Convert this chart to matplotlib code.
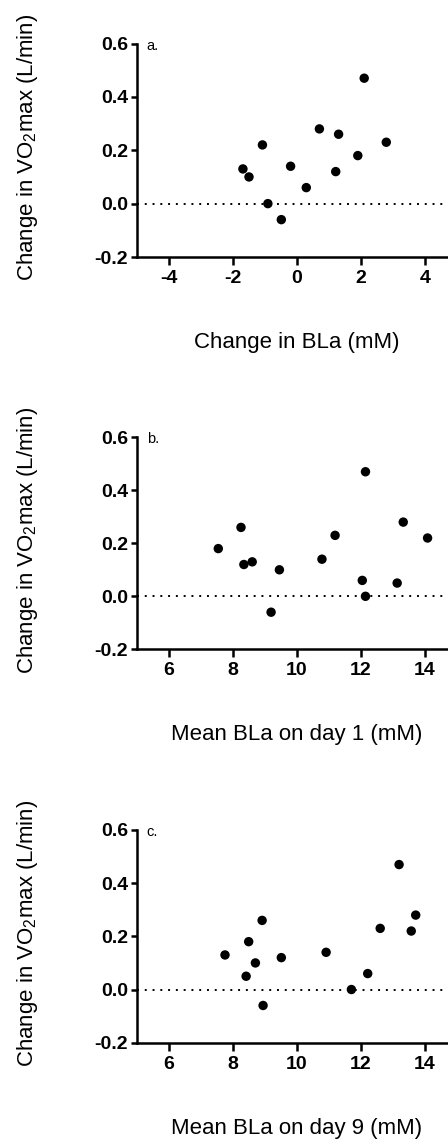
"""Change in VO2max vs blood lactate (BLa): three stacked scatter panels."""
import matplotlib
matplotlib.use("Agg")
import matplotlib.pyplot as plt

plt.rcParams["font.family"] = ["Liberation Sans", "DejaVu Sans"]
plt.rcParams["mathtext.fontset"] = "custom"
plt.rcParams["mathtext.rm"] = "Liberation Sans"
plt.rcParams["axes.unicode_minus"] = False

# ── data ──
bla_change = [-1.69, -1.50, -1.08, -0.91, -0.49, -0.20, 0.29, 0.70, 1.21, 1.30, 1.90, 2.10, 2.79]
vo2_a      = [0.13, 0.10, 0.22, 0.00, -0.06, 0.14, 0.06, 0.28, 0.12, 0.26, 0.18, 0.47, 0.23]

bla_day1 = [7.54, 8.25, 8.34, 8.60, 9.19, 9.45, 10.78, 11.19, 12.04, 12.14, 12.14, 13.13, 13.32, 14.08]
vo2_b    = [0.18, 0.26, 0.12, 0.13, -0.06, 0.10, 0.14, 0.23, 0.06, 0.47, 0.00, 0.05, 0.28, 0.22]

bla_day9 = [7.75, 8.49, 8.41, 8.70, 8.91, 8.94, 9.51, 10.91, 11.70, 12.21, 12.60, 13.19, 13.57, 13.71]
vo2_c    = [0.13, 0.18, 0.05, 0.10, 0.26, -0.06, 0.12, 0.14, 0.00, 0.06, 0.23, 0.47, 0.22, 0.28]

PANELS = [
    ("a.", bla_change, vo2_a, (-5, 5), [-4, -2, 0, 2, 4], "Change in BLa (mM)"),
    ("b.", bla_day1, vo2_b, (5, 15), [6, 8, 10, 12, 14], "Mean BLa on day 1 (mM)"),
    ("c.", bla_day9, vo2_c, (5, 15), [6, 8, 10, 12, 14], "Mean BLa on day 9 (mM)"),
]
Y_TICKS = [-0.2, 0.0, 0.2, 0.4, 0.6]
Y_LABEL = r"Change in VO$_\mathregular{2}$max (L/min)"

W, H = 448, 1139
# axes boxes in pixels: left, top, bottom (right edge runs past the figure)
BOXES = [(137, 43.5, 257.0), (137, 437.3, 649.3), (137, 830.0, 1042.7)]
AX_W = 320

fig = plt.figure(figsize=(W / 100, H / 100), dpi=100)

for (tag, x, y, xlim, xticks, xlabel), (l, t, b) in zip(PANELS, BOXES):
    ax = fig.add_axes([l / W, 1 - b / H, AX_W / W, (b - t) / H])
    ax.axhline(0, color="k", lw=1.4, ls=(0, (1, 3.0)), zorder=1)
    ax.scatter(x, y, s=46, color="k", edgecolors="none", zorder=3, clip_on=False)

    ax.set_xlim(*xlim)
    ax.set_ylim(-0.2, 0.6)
    ax.set_xticks(xticks)
    ax.set_yticks(Y_TICKS)
    ax.set_yticklabels([f"{v:.1f}" for v in Y_TICKS])
    for s in ("top", "right"):
        ax.spines[s].set_visible(False)
    for s in ("left", "bottom"):
        ax.spines[s].set_linewidth(1.8)
    ax.tick_params(axis="x", length=6, width=1.8, pad=3.5, labelsize=14)
    ax.tick_params(axis="y", length=4.5, width=1.8, pad=2, labelsize=14)
    for lab in ax.get_xticklabels() + ax.get_yticklabels():
        lab.set_fontweight("bold")

    ax.text(0.03, 0.99, tag, transform=ax.transAxes, ha="left", va="center", fontsize=10.5)
    ax.text(0.5, -0.402, xlabel, transform=ax.transAxes, ha="center", va="center", fontsize=16)
    fig.text(28 / W, 1 - ((t + b) / 2 - 3) / H, Y_LABEL, rotation=90,
             ha="center", va="center", fontsize=16)

fig.savefig("out.png", dpi=100)
